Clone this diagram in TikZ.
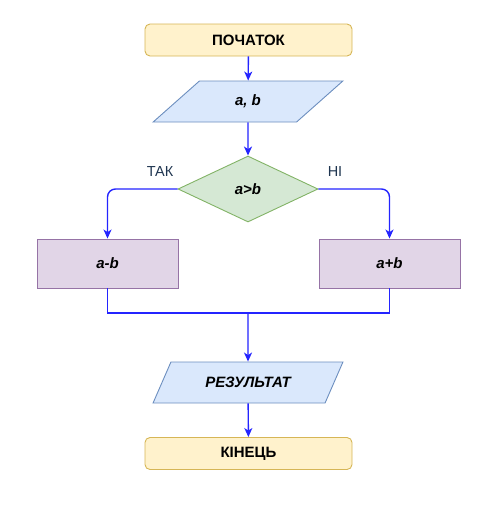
\documentclass[tikz,border=0pt]{standalone}
\usepackage{fontspec}
\setmainfont{Liberation Sans}
\usetikzlibrary{shapes.geometric,arrows.meta}
\definecolor{yfill}{HTML}{FFF2CC}\definecolor{ydraw}{HTML}{D6B656}
\definecolor{bfill}{HTML}{DAE8FC}\definecolor{bdraw}{HTML}{6C8EBF}
\definecolor{gfill}{HTML}{D5E8D4}\definecolor{gdraw}{HTML}{82B366}
\definecolor{pfill}{HTML}{E1D5E7}\definecolor{pdraw}{HTML}{9673A6}
\definecolor{arrowc}{HTML}{2424FF}
\definecolor{labc}{HTML}{1F3550}
\begin{document}
\begin{tikzpicture}[x=1pt,y=-1pt,
  every node/.style={font=\fontsize{15}{17}\selectfont, inner sep=0pt},
  term/.style={rectangle, rounded corners=5pt, fill=yfill, draw=ydraw, line width=0.9pt,
     minimum width=207pt, minimum height=32pt, font=\fontsize{15}{17}\selectfont\bfseries},
  io/.style={trapezium, trapezium left angle=47, trapezium right angle=133,
     trapezium stretches=true, fill=bfill, draw=bdraw, line width=0.9pt,
     minimum width=190pt, minimum height=41pt, font=\fontsize{15}{17}\selectfont\bfseries\itshape},
  dec/.style={diamond, fill=gfill, draw=gdraw, line width=0.9pt,
     minimum width=140pt, minimum height=66pt, font=\fontsize{15}{17}\selectfont\bfseries\itshape},
  proc/.style={rectangle, fill=pfill, draw=pdraw, line width=0.9pt,
     minimum width=141pt, minimum height=49pt, font=\fontsize{15}{17}\selectfont\bfseries\itshape},
  conn/.style={draw=arrowc, line width=1.4pt},
  arr/.style={conn, -{Stealth[length=9pt,width=8pt,inset=2.5pt]}},
  lab/.style={text=labc, font=\fontsize{14.5}{17}\selectfont}
]
\useasboundingbox (0,0) rectangle (500,512);
\node[term] (start) at (248.5,40) {ПОЧАТОК};
\node[io] (in) at (248,101.5) {a, b};
\node[dec] (d) at (248,189) {a>b};
\node[proc] (l) at (107.5,263.5) {a-b};
\node[proc] (r) at (389.5,263.5) {a+b};
\coordinate (j) at (248,313);
\node[io] (out) at (248,382.5) {РЕЗУЛЬТАТ};
\node[term] (end) at (248.5,453.5) {КІНЕЦЬ};
\node[lab] (yes) at (160,172) {ТАК};
\node[lab] (no) at (335,172) {НІ};
\draw[arr] (start) -- (in);
\draw[arr] (in) -- (d);
\draw[arr, rounded corners=8pt] (d.west) -| (l.north);
\draw[arr, rounded corners=8pt] (d.east) -| (r.north);
\draw[conn] (l.south) |- (j);
\draw[conn] (r.south) |- (j);
\draw[arr] (j) -- (out.north);
\draw[arr] (out) -- (end);
\end{tikzpicture}
\end{document}
